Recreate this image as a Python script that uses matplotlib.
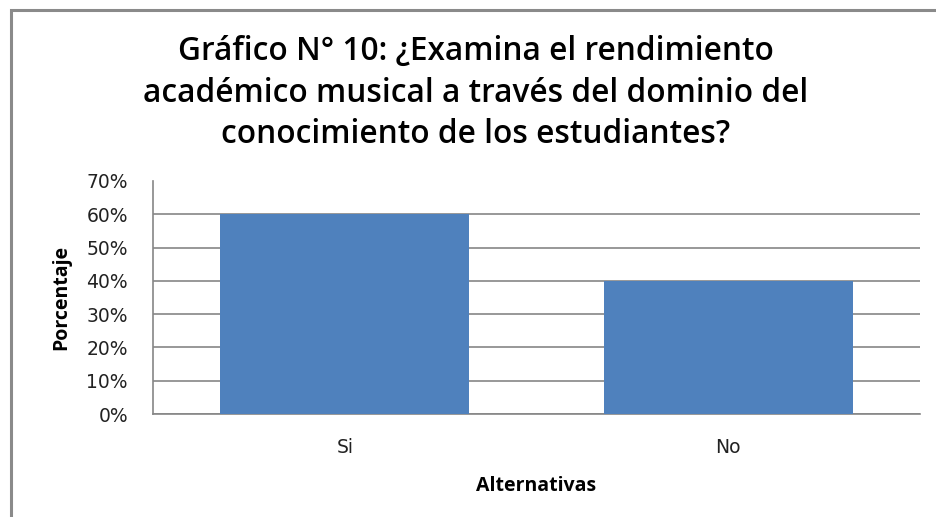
import matplotlib
matplotlib.use("Agg")
import matplotlib.pyplot as plt
from matplotlib.patches import Rectangle
from matplotlib.ticker import PercentFormatter

categorias = ["Si", "No"]
porcentajes = [0.60, 0.40]
titulo = ("Gráfico N° 10: ¿Examina el rendimiento\n"
          "académico musical a través del dominio del\n"
          "conocimiento de los estudiantes?")

fig = plt.figure(figsize=(9.36, 5.17), dpi=100)

# marco exterior gris (solo se ven los bordes izquierdo y superior)
fig.patches.append(Rectangle((11 / 936, -0.05), 1.2, 1.05 - 10 / 517,
                             transform=fig.transFigure, fill=False,
                             edgecolor="#8a8a8a", linewidth=2.2))

ax = fig.add_axes([153 / 936, 1 - 414 / 517, (920 - 153) / 936, (414 - 181) / 517])
ax.bar(categorias, porcentajes, width=0.65, color="#4f81bd", zorder=3)

ax.set_ylim(0, 0.7)
ax.set_xlim(-0.5, 1.5)
ax.set_yticks([i / 10 for i in range(8)])
ax.yaxis.set_major_formatter(PercentFormatter(1.0, decimals=0))
ax.yaxis.grid(True, color="#868686", linewidth=1.2, zorder=0)
ax.get_ygridlines()[-1].set_visible(False)

for s in ["top", "right"]:
    ax.spines[s].set_visible(False)
for s in ["left", "bottom"]:
    ax.spines[s].set_color("#868686")
    ax.spines[s].set_linewidth(1.2)
ax.tick_params(axis="both", length=0, labelsize=13.5, labelcolor="#222222")
ax.tick_params(axis="y", pad=18)
ax.tick_params(axis="x", pad=17)

ax.set_xlabel("Alternativas", fontsize=14, fontweight="bold", family="Open Sans", labelpad=14)
ax.set_ylabel("Porcentaje", fontsize=14, fontweight="bold", family="Open Sans", labelpad=11)

fig.text(476 / 936, 1 - 93 / 517, titulo, ha="center", va="center",
         fontsize=22.8, family="Open Sans", fontweight="semibold", linespacing=1.33)

fig.savefig("out.png", dpi=100)
